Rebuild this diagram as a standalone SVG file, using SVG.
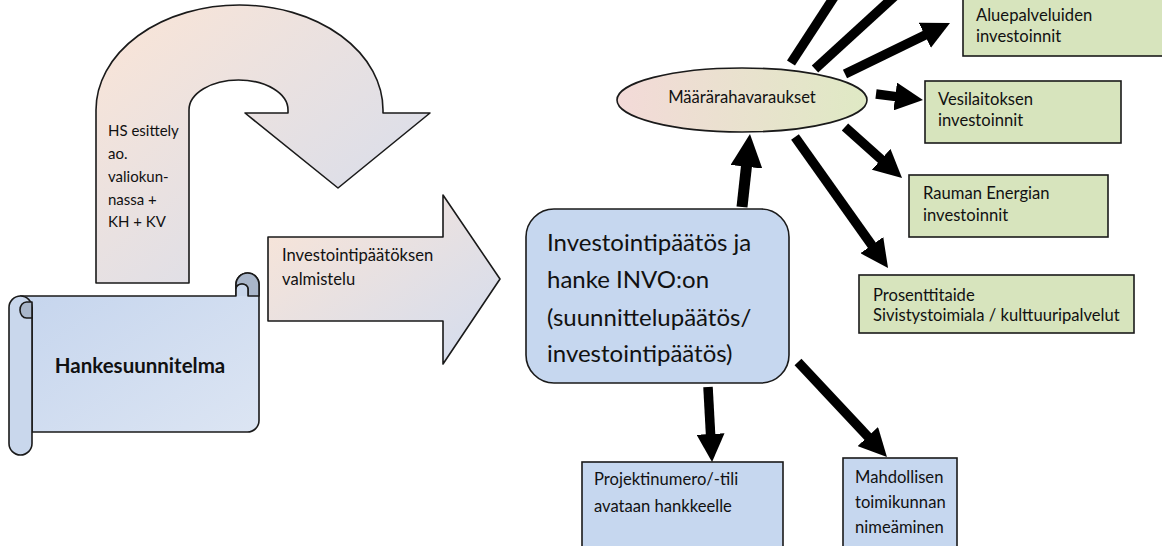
<svg xmlns="http://www.w3.org/2000/svg" width="1162" height="546" viewBox="0 0 1162 546">
  <defs>
    <linearGradient id="gradWarm" x1="0" y1="0" x2="1" y2="1">
      <stop offset="0" stop-color="#fbe5d6"/>
      <stop offset="1" stop-color="#d2dcef"/>
    </linearGradient>
    <linearGradient id="gradScroll" x1="0" y1="0" x2="1" y2="1">
      <stop offset="0" stop-color="#c4d4ed"/>
      <stop offset="1" stop-color="#dce5f3"/>
    </linearGradient>
    <linearGradient id="gradOval" x1="0" y1="0" x2="1" y2="0">
      <stop offset="0" stop-color="#f3dad8"/>
      <stop offset="1" stop-color="#dfe9c4"/>
    </linearGradient>
    <marker id="head" markerUnits="userSpaceOnUse" markerWidth="28" markerHeight="28" viewBox="0 0 28 28" refX="1" refY="14" orient="auto">
      <path d="M0,0 L28,14 L0,28 Z" fill="#000"/>
    </marker>
    <marker id="headBig" markerUnits="userSpaceOnUse" markerWidth="33" markerHeight="32" viewBox="0 0 33 32" refX="1" refY="16" orient="auto">
      <path d="M0,0 L33,16 L0,32 Z" fill="#000"/>
    </marker>
    <style>
      text { font-family: "Lato", "Liberation Sans", sans-serif; fill: #111; }
      .t { font-size: 16.6px; }
      .tHS { font-size: 15px; }
      .tBig { font-size: 24px; }
      .tBold { font-size: 20.5px; font-weight: bold; }
      .shape { stroke: #1a1a1a; stroke-width: 1.6; stroke-linejoin: round; }
      .green { fill: #d7e4bd; stroke: #1a1a1a; stroke-width: 1.6; }
      .blue { fill: #c6d7ef; stroke: #1a1a1a; stroke-width: 1.6; }
      .shaft { stroke: #000; stroke-width: 9.5; fill: none; }
    </style>
  </defs>

  <!-- curved U-turn arrow -->
  <g id="u-arrow">
    <path class="shape" fill="url(#gradWarm)"
      d="M96,283 V110 A143.5,105 0 0 1 383,110 V113 H430 L338,188 L245,113 H288 V110 A49.5,30 0 0 0 189,110 V283 Z"/>
    <text class="tHS" x="108" y="136">HS esittely</text>
    <text class="tHS" x="108" y="159">ao.</text>
    <text class="tHS" x="108" y="182">valiokun-</text>
    <text class="tHS" x="108" y="205">nassa +</text>
    <text class="tHS" x="108" y="227">KH + KV</text>
  </g>

  <!-- block arrow towards the decision -->
  <g id="prep-arrow">
    <path class="shape" fill="url(#gradWarm)" d="M268,237 H443 V195 L500,279 L443,364 V321 H268 Z"/>
    <text class="t" x="282" y="261">Investointipäätöksen</text>
    <text class="t" x="282" y="285">valmistelu</text>
  </g>

  <!-- project plan scroll -->
  <g id="plan-scroll">
    <path class="shape" fill="url(#gradScroll)"
      d="M20.5,296 H236 V284.5 A11.5,11.5 0 0 1 259,284.5 V420.5 A11.5,11.5 0 0 1 247.5,432 H32 V307.5 Z"/>
    <!-- top-right curl -->
    <path class="shape" fill="#a9b6ca" d="M236,284.5 A11.5,11.5 0 0 1 259,284.5 V296 H248 V289 A6,5 0 0 0 236,289 Z"/>
    <path class="shape" fill="#c9d7ec" d="M236,296 V289 A6,5 0 0 1 248,289 V296"/>
    <!-- left roll -->
    <path class="shape" fill="#c9d7ec" d="M9,307.5 A11.5,11.5 0 0 1 32,307.5 V443.5 A11.5,11.5 0 0 1 9,443.5 Z"/>
    <path class="shape" fill="#a9b6ca" d="M32,302 H26.5 A6.5,8 0 0 0 26.5,318 H32 Z"/>
    <text class="tBold" x="140" y="373" text-anchor="middle">Hankesuunnitelma</text>
  </g>

  <!-- investment decision -->
  <g id="decision">
    <rect class="blue" x="526" y="209" width="263" height="174" rx="28" ry="28"/>
    <text class="tBig" x="547" y="251">Investointipäätös ja</text>
    <text class="tBig" x="547" y="288">hanke INVO:on</text>
    <text class="tBig" x="547" y="326">(suunnittelupäätös/</text>
    <text class="tBig" x="547" y="362">investointipäätös)</text>
  </g>

  <!-- appropriation reservations -->
  <g id="reservations">
    <ellipse class="shape" fill="url(#gradOval)" cx="742" cy="100" rx="125" ry="32"/>
    <text class="t" x="742" y="103" text-anchor="middle">Määrärahavaraukset</text>
  </g>

  <g id="area-services">
    <rect class="green" x="963" y="-3" width="210" height="59"/>
    <text class="t" x="976" y="21">Aluepalveluiden</text>
    <text class="t" x="976" y="42">investoinnit</text>
  </g>

  <g id="waterworks">
    <rect class="green" x="925" y="81" width="196" height="62"/>
    <text class="t" x="938" y="105">Vesilaitoksen</text>
    <text class="t" x="938" y="126">investoinnit</text>
  </g>

  <g id="energy">
    <rect class="green" x="909" y="175" width="199" height="62"/>
    <text class="t" x="923" y="199">Rauman Energian</text>
    <text class="t" x="923" y="221">investoinnit</text>
  </g>

  <g id="percent-art">
    <rect class="green" x="859" y="275" width="275" height="58"/>
    <text class="t" x="873" y="301">Prosenttitaide</text>
    <text class="t" x="873" y="321">Sivistystoimiala / kulttuuripalvelut</text>
  </g>

  <g id="project-number">
    <rect class="blue" x="582" y="462" width="201" height="90"/>
    <text class="t" x="594" y="485">Projektinumero/-tili</text>
    <text class="t" x="594" y="512">avataan hankkeelle</text>
  </g>

  <g id="committee">
    <rect class="blue" x="843" y="458" width="114" height="94"/>
    <text class="t" x="855" y="483">Mahdollisen</text>
    <text class="t" x="855" y="508">toimikunnan</text>
    <text class="t" x="855" y="533">nimeäminen</text>
  </g>

  <!-- connectors -->
  <g id="connectors">
    <line class="shaft" style="stroke-width:11" x1="742" y1="207" x2="746.5" y2="165.8" marker-end="url(#headBig)"/>
    <line class="shaft" x1="876" y1="94" x2="896.2" y2="96.6" marker-end="url(#head)"/>
    <line class="shaft" x1="845" y1="74" x2="925.7" y2="34.8" marker-end="url(#head)"/>
    <line class="shaft" x1="845" y1="127" x2="881.9" y2="160" marker-end="url(#head)"/>
    <line class="shaft" x1="795" y1="137" x2="872.4" y2="246" marker-end="url(#head)"/>
    <line class="shaft" x1="708" y1="387" x2="710.6" y2="435" marker-end="url(#head)"/>
    <line class="shaft" x1="798" y1="362" x2="868.5" y2="437.3" marker-end="url(#head)"/>
    <line class="shaft" x1="791" y1="63" x2="836" y2="-6"/>
    <line class="shaft" x1="815" y1="69" x2="897" y2="-6"/>
  </g>
</svg>
